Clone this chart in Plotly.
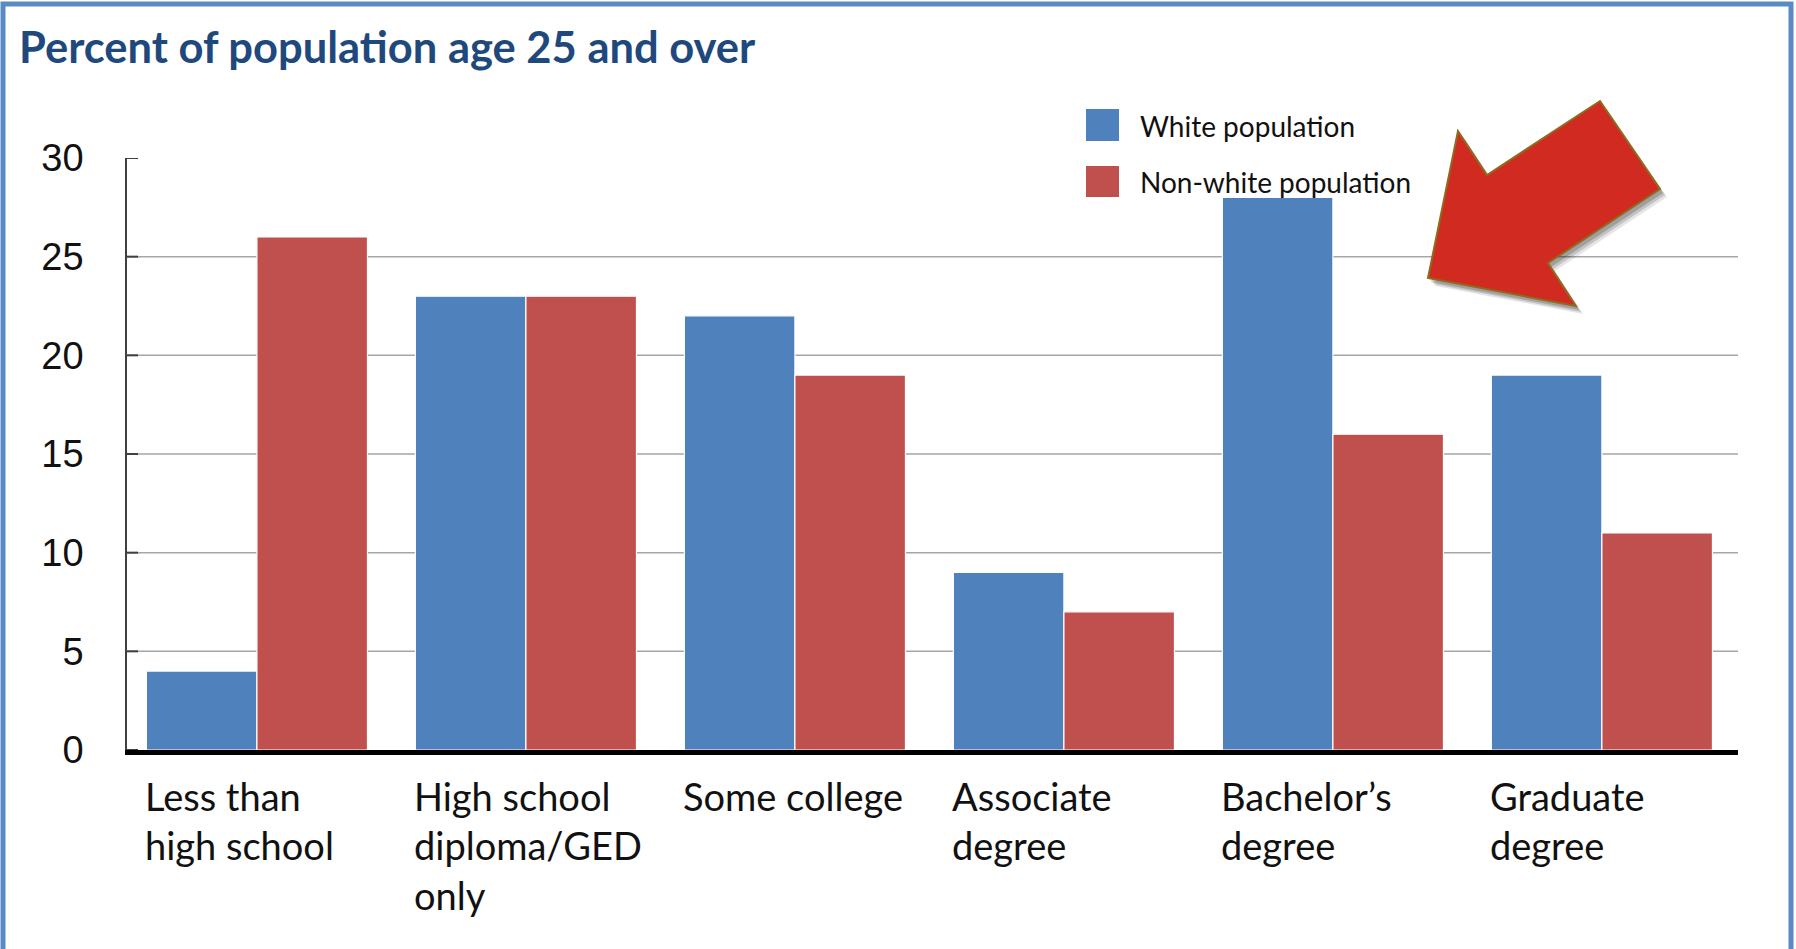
import plotly.graph_objects as go

# ---------------- data ----------------
categories = ["Less than high school", "High school diploma/GED only", "Some college",
              "Associate degree", "Bachelor’s degree", "Graduate degree"]
tick_labels = ["Less than<br>high school", "High school<br>diploma/GED<br>only", "Some college",
               "Associate<br>degree", "Bachelor’s<br>degree", "Graduate<br>degree"]
series_names = ["White population", "Non-white population"]
white_values = [4, 23, 22, 9, 28, 19]
nonwhite_values = [26, 23, 19, 7, 16, 11]
y_ticks = [0, 5, 10, 15, 20, 25, 30]
grid_values = [5, 10, 15, 20, 25]
title_text = "Percent of population age 25 and over"

# ---------------- style ----------------
BLUE = "#4F81BD"
RED = "#C0504D"
W, H = 1796, 949
L, R, T, B = 127, 58, 158, 199
PW = W - L - R
PH = H - T - B


def px(x):
    return (x - L) / PW


def py(y):
    return (H - B - y) / PH


fig = go.Figure()
colors = [BLUE, RED]
for name, vals, col in zip(series_names, [white_values, nonwhite_values], colors):
    fig.add_trace(go.Bar(
        x=categories, y=vals, name=name,
        marker=dict(color=col, line=dict(color="white", width=1.2)),
        showlegend=False,
    ))

shapes = []
# gridlines
for g in grid_values:
    shapes.append(dict(type="line", xref="paper", yref="y", x0=0, x1=1, y0=g, y1=g,
                       line=dict(color="#A6A6A6", width=1.5), layer="below"))
# inside tick marks on the y axis
for t in y_ticks:
    shapes.append(dict(type="line", xref="paper", yref="y", x0=0, x1=px(L + 11), y0=t, y1=t,
                       line=dict(color="#404040", width=2), layer="above"))

# outer frame
shapes.append(dict(type="rect", xref="paper", yref="paper",
                   x0=px(3), x1=px(1791), y0=py(4), y1=py(990),
                   line=dict(color="#5A8AC6", width=5), fillcolor="rgba(0,0,0,0)", layer="above"))

# legend swatches
legend_boxes = [(1086, 109, 1119, 141), (1086, 166, 1119, 197)]
for (x0, y0, x1, y1), col in zip(legend_boxes, colors):
    shapes.append(dict(type="rect", xref="paper", yref="paper",
                       x0=px(x0), x1=px(x1), y0=py(y0), y1=py(y1),
                       fillcolor=col, line=dict(width=0)))

# arrow (pixel outline -> paper path)
arrow_pts = [(1428, 278), (1458, 131), (1487, 175), (1600, 101),
             (1660, 189), (1548, 263), (1576, 306)]


def make_path(pts, dx=0, dy=0):
    s = ""
    for i, (x, y) in enumerate(pts):
        s += ("M" if i == 0 else "L") + f"{px(x + dx):.5f},{py(y + dy):.5f} "
    return s + "Z"


for dx, dy, a in [(7, 8, 0.10), (5, 6, 0.15), (3, 4, 0.18)]:
    shapes.append(dict(type="path", xref="paper", yref="paper", path=make_path(arrow_pts, dx, dy),
                       fillcolor=f"rgba(0,0,0,{a})", line=dict(width=0), layer="above"))
shapes.append(dict(type="path", xref="paper", yref="paper", path=make_path(arrow_pts),
                   fillcolor="#D12A20", line=dict(color="#8E6B1E", width=2), layer="above"))

annotations = []
# category labels
for cat, lab in zip(categories, tick_labels):
    annotations.append(dict(x=cat, xref="x", y=0, yref="paper", text=lab, showarrow=False,
                            xanchor="left", yanchor="top", align="left", xshift=-114, yshift=-21,
                            font=dict(family="Lato", size=38, color="#111111")))
# legend labels
legend_text_y = [126, 182]
for name, ty in zip(series_names, legend_text_y):
    annotations.append(dict(x=px(1138), xref="paper", y=py(ty), yref="paper", text=name,
                            showarrow=False, xanchor="left", yanchor="middle",
                            font=dict(family="Lato", size=28, color="#111111")))

fig.update_layout(
    width=W, height=H,
    margin=dict(l=L, r=R, t=T, b=B),
    paper_bgcolor="white", plot_bgcolor="white",
    barmode="group", bargap=0.178, bargroupgap=0,
    title=dict(text=f"<b>{title_text}</b>", x=19 / W, xanchor="left", xref="container",
               y=1 - 48 / H, yanchor="middle", yref="container",
               font=dict(family="Lato", size=43.5, color="#1F497D")),
    xaxis=dict(range=[-0.483, 5.506], showticklabels=False, showgrid=False, zeroline=False,
               showline=True, linecolor="black", linewidth=5, ticks=""),
    yaxis=dict(range=[0, 30], tickvals=y_ticks, showgrid=False, zeroline=False,
               showline=True, linecolor="#404040", linewidth=1.5,
               ticks="", ticklabelstandoff=34,
               tickfont=dict(family="Liberation Sans", size=38, color="#111111")),
    shapes=shapes,
    annotations=annotations,
    showlegend=False,
)

fig.write_html("out.html", config={"displayModeBar": False},
               post_script="document.body.style.margin='0';document.body.style.overflow='hidden';")
